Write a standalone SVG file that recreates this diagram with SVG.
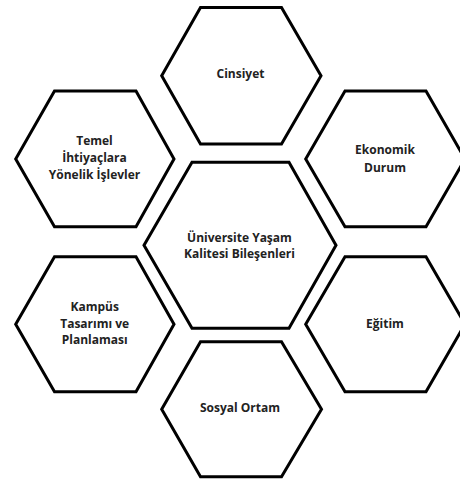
<svg xmlns="http://www.w3.org/2000/svg" width="460" height="479" viewBox="0 0 460 479">
<style>
.hex{fill:#ffffff;stroke:#000000;stroke-width:3;stroke-linejoin:miter}
.lbl{font-family:"Open Sans","Liberation Sans",sans-serif;font-weight:bold;font-size:12px;fill:#222222;text-anchor:middle}
</style>
<rect width="460" height="479" fill="#ffffff"/>
<g id="connectors"/>
<g id="node-cinsiyet">
<polygon class="hex" points="200.5,7.5 281.5,7.5 321,75.7 281.5,144 200.5,144 161.7,75.7"/>
<text class="lbl" x="240.5" y="78.3">Cinsiyet</text>
</g>
<g id="node-temel">
<polygon class="hex" points="54.5,91 136,91 174,159 136,226.7 54.5,226.7 15.7,159"/>
<text class="lbl" x="94.5" y="145">Temel</text>
<text class="lbl" x="94.5" y="162">İhtiyaçlara</text>
<text class="lbl" x="94.5" y="178.5">Yönelik İşlevler</text>
</g>
<g id="node-ekonomik">
<polygon class="hex" points="345,91 426,91 465,159 426,226.7 345,226.7 305.7,159"/>
<text class="lbl" x="385" y="154">Ekonomik</text>
<text class="lbl" x="385" y="171.5">Durum</text>
</g>
<g id="node-merkez">
<polygon class="hex" points="192,162.3 289,162.3 336,245.3 289,328.3 192,328.3 144,245.3"/>
<text class="lbl" x="239.5" y="241.7">Üniversite Yaşam</text>
<text class="lbl" x="239.5" y="258.3">Kalitesi Bileşenleri</text>
</g>
<g id="node-kampus">
<polygon class="hex" points="54.5,256.7 136,256.7 174,324.2 136,391.7 54.5,391.7 15.7,324.2"/>
<text class="lbl" x="94.7" y="310.5">Kampüs</text>
<text class="lbl" x="94.7" y="327.5">Tasarımı ve</text>
<text class="lbl" x="94.7" y="344">Planlaması</text>
</g>
<g id="node-egitim">
<polygon class="hex" points="345,256.7 426,256.7 465,324.2 426,391.7 345,391.7 305.7,324.2"/>
<text class="lbl" x="385" y="327.5">Eğitim</text>
</g>
<g id="node-sosyal">
<polygon class="hex" points="200.5,341.7 281.5,341.7 321.5,409.2 281.5,476.7 200.5,476.7 161.7,409.2"/>
<text class="lbl" x="240" y="412.3">Sosyal Ortam</text>
</g>
</svg>
